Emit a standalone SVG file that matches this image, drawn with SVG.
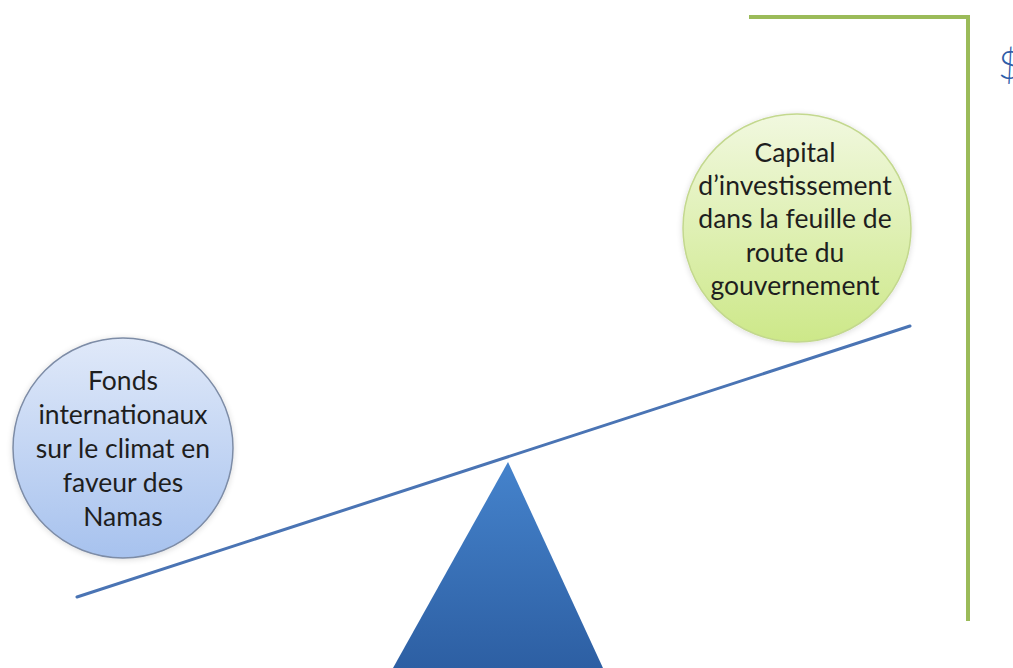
<svg xmlns="http://www.w3.org/2000/svg" width="1013" height="668" viewBox="0 0 1013 668">
<defs>
<linearGradient id="gBlue" x1="0" y1="0" x2="0" y2="1">
<stop offset="0" stop-color="#e0e9f9"/>
<stop offset="1" stop-color="#a7c2ee"/>
</linearGradient>
<linearGradient id="gGreen" x1="0" y1="0" x2="0" y2="1">
<stop offset="0" stop-color="#f1f8df"/>
<stop offset="1" stop-color="#cde889"/>
</linearGradient>
<linearGradient id="gTri" x1="0" y1="0" x2="0" y2="1">
<stop offset="0" stop-color="#4583cc"/>
<stop offset="1" stop-color="#2d5fa3"/>
</linearGradient>
<filter id="glow" x="-20%" y="-20%" width="140%" height="140%">
<feGaussianBlur in="SourceAlpha" stdDeviation="3"/>
<feOffset dx="0" dy="1" result="b"/>
<feComponentTransfer><feFuncA type="linear" slope="0.15"/></feComponentTransfer>
<feMerge><feMergeNode/><feMergeNode in="SourceGraphic"/></feMerge>
</filter>
<style>
.lbl{font-family:Lato,"Liberation Sans",sans-serif;font-size:26.5px;fill:#1e1e1e;text-anchor:middle}
.bracket{fill:none;stroke:#9bbb59;stroke-width:4}
.beam{stroke:#4a74b4;stroke-width:3;stroke-linecap:round}
</style>
</defs>
<rect width="1013" height="668" fill="#ffffff"/>
<g id="bracket">
<polyline class="bracket" points="749,17 968,17 968,621"/>
</g>
<g id="dollar">
<text x="998" y="79" font-family="Lato,'Liberation Sans',sans-serif" font-size="40" fill="#2f5da8" font-weight="300">$</text>
</g>
<g id="connectors">
<line class="beam" x1="77" y1="597" x2="910" y2="326"/>
</g>
<g id="fulcrum">
<polygon points="508,462 603,668 393,668" fill="url(#gTri)"/>
</g>
<g id="node-fonds">
<circle cx="123" cy="448" r="110" fill="url(#gBlue)" stroke="#7d8ca6" stroke-width="1.5" filter="url(#glow)"/>
<text class="lbl" x="123" y="390">Fonds</text>
<text class="lbl" x="123" y="424">internationaux</text>
<text class="lbl" x="123" y="458">sur le climat en</text>
<text class="lbl" x="123" y="492">faveur des</text>
<text class="lbl" x="123" y="526">Namas</text>
</g>
<g id="node-capital">
<circle cx="797" cy="228" r="114" fill="url(#gGreen)" stroke="#c3d88e" stroke-width="1.5" filter="url(#glow)"/>
<text class="lbl" x="795" y="162">Capital</text>
<text class="lbl" x="795" y="195">d’investissement</text>
<text class="lbl" x="795" y="228">dans la feuille de</text>
<text class="lbl" x="795" y="262">route du</text>
<text class="lbl" x="795" y="295">gouvernement</text>
</g>
</svg>
